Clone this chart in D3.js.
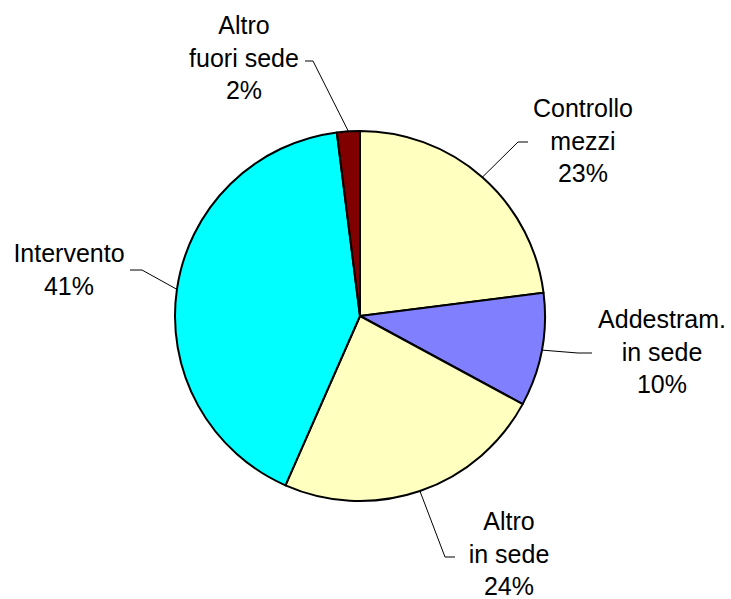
<!DOCTYPE html>
<html><head><meta charset="utf-8">
<script src="https://cdn.jsdelivr.net/npm/d3@7"></script>
<style>body{margin:0;background:#fff}svg{display:block}</style>
</head><body>
<svg id="c" width="731" height="599"></svg>
<script>
const categories = ["Controllo mezzi", "Addestram. in sede", "Altro in sede", "Intervento", "Altro fuori sede"];
const labelLines = [["Controllo","mezzi"],["Addestram.","in sede"],["Altro","in sede"],["Intervento"],["Altro","fuori sede"]];
const values = [23.0, 9.9, 23.7, 41.4, 2.0];
const colors = ["#FFFFC0", "#8080FF", "#FFFFC0", "#00FFFF", "#800000"];

const svg = d3.select("#c");
const cx = 360, cy = 316, R = 185;
const g = svg.append("g").attr("transform", `translate(${cx},${cy})`);
const pie = d3.pie().sort(null).value(d => d);
const arcs = pie(values);
const arc = d3.arc().innerRadius(0).outerRadius(R);
g.selectAll("path.s").data(arcs).enter().append("path")
  .attr("d", arc).attr("fill", (d,i) => colors[i])
  .attr("stroke", "#000").attr("stroke-width", 2).attr("stroke-linejoin","round");

const total = d3.sum(values);
const layout = [
  {x:583, y:117, elbow:[518,142], end:[528,142]},
  {x:662, y:328, elbow:[578,353], end:[592,353]},
  {x:509, y:530, elbow:[445,557], end:[455,557]},
  {x:69,  y:262, elbow:[142,270], end:[130,270]},
  {x:244, y:34,  elbow:[313,61],  end:[305,61]}
];
const lh = 32.5;
arcs.forEach((a, i) => {
  const mid = (a.startAngle + a.endAngle) / 2;
  const px = cx + R * Math.sin(mid), py = cy - R * Math.cos(mid);
  const L = layout[i];
  svg.append("polyline")
    .attr("points", `${px},${py} ${L.elbow[0]},${L.elbow[1]} ${L.end[0]},${L.end[1]}`)
    .attr("fill","none").attr("stroke","#000").attr("stroke-width",1);
  const lines = labelLines[i].concat([Math.round(values[i] / total * 100) + "%"]);
  const t = svg.append("text").attr("text-anchor","middle")
    .attr("font-family","'Liberation Sans', Arial, sans-serif").attr("font-size",25).attr("fill","#000");
  lines.forEach((s, k) => t.append("tspan").attr("x", L.x).attr("y", L.y + k*lh).text(s));
});
</script>
</body></html>
